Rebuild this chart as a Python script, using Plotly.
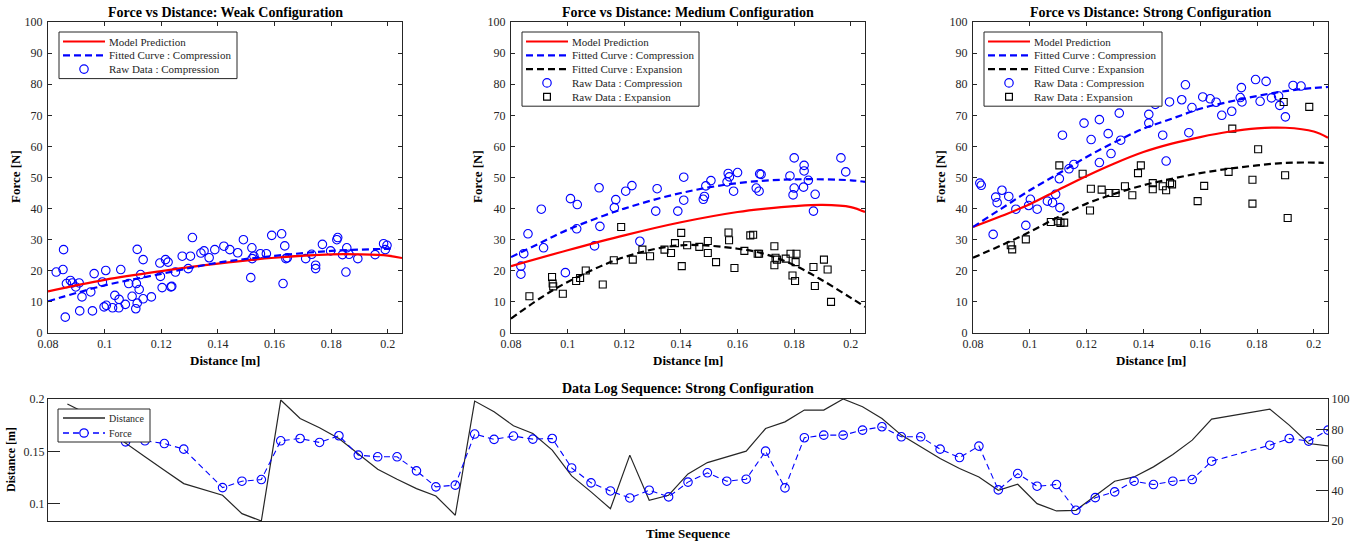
import plotly.graph_objects as go

# ---------------- Weak configuration ----------------
weak_comp_x = [0.0829, 0.0853, 0.0855, 0.0861, 0.0865, 0.0879, 0.0886, 0.0898, 0.0910, 0.0912,
               0.0920, 0.0951, 0.0957, 0.0963, 0.0992, 0.0998, 0.1004, 0.1006, 0.1028, 0.1036,
               0.1050, 0.1051, 0.1057, 0.1073, 0.1085, 0.1097, 0.1112, 0.1115, 0.1115, 0.1110,
               0.1122, 0.1127, 0.1136, 0.1136, 0.1165, 0.1195, 0.1197, 0.1203, 0.1215, 0.1224,
               0.1234, 0.1237, 0.1250, 0.1274, 0.1295, 0.1303, 0.1310, 0.1340, 0.1351, 0.1369,
               0.1389, 0.1421, 0.1442, 0.1470, 0.1490, 0.1516, 0.1520, 0.1521, 0.1527, 0.1550,
               0.1571, 0.1590, 0.1625, 0.1630, 0.1636, 0.1640, 0.1645, 0.1710, 0.1731, 0.1745,
               0.1745, 0.1769, 0.1798, 0.1820, 0.1823, 0.1840, 0.1852, 0.1855, 0.1863, 0.1894,
               0.1955, 0.1985, 0.1991, 0.1997]
weak_comp_f = [19.6, 20.4, 26.8, 5.1, 15.9, 16.9, 16.1, 14.8, 16.1, 7.1,
               11.6, 13.2, 7.1, 19.1, 16.4, 8.4, 20.1, 8.9, 8.1, 12.1,
               8.1, 10.8, 20.4, 9.2, 15.9, 11.8, 15.9, 26.9, 9.6, 7.8,
               14.0, 18.8, 11.0, 23.6, 11.6, 22.5, 18.2, 14.6, 23.6, 22.8,
               14.8, 15.0, 19.6, 24.7, 20.7, 24.7, 30.7, 25.7, 26.4, 24.2,
               26.8, 27.9, 26.8, 25.8, 30.0, 17.8, 27.4, 23.9, 24.7, 25.5,
               25.5, 31.4, 31.9, 15.9, 28.0, 23.9, 24.2, 23.9, 25.3, 21.8,
               20.7, 28.5, 26.4, 30.0, 30.7, 25.2, 19.6, 27.4, 25.3, 23.9,
               25.2, 28.7, 26.8, 28.2]
weak_model_x = [0.08, 0.10, 0.12, 0.14, 0.16, 0.18, 0.19, 0.20, 0.205]
weak_model_f = [13.4, 17.1, 19.9, 22.3, 24.2, 25.3, 25.3, 24.9, 24.1]
weak_fit_x = [0.08, 0.10, 0.12, 0.14, 0.16, 0.18, 0.20, 0.2025]
weak_fit_f = [10.2, 15.3, 19.0, 22.6, 24.8, 26.4, 27.1, 27.2]

# ---------------- Medium configuration ----------------
med_comp_x = [0.0835, 0.0835, 0.0845, 0.0860, 0.0907, 0.0915, 0.0992, 0.1010, 0.1034, 0.1032,
              0.1095, 0.1111, 0.1114, 0.1165, 0.1170, 0.1205, 0.1227, 0.1255, 0.1311, 0.1316,
              0.1389, 0.1410, 0.1410, 0.1479, 0.1483, 0.1488, 0.1506, 0.1563, 0.1567, 0.1571,
              0.1586, 0.1600, 0.1666, 0.1676, 0.1678, 0.1683, 0.1785, 0.1796, 0.1800, 0.1800,
              0.1833, 0.1835, 0.1835, 0.1850, 0.1868, 0.1874, 0.1965, 0.1982]
med_comp_f = [21.5, 18.9, 25.5, 31.9, 39.8, 27.4, 19.4, 43.2, 41.3, 33.5,
              28.0, 46.7, 34.3, 40.3, 42.9, 45.6, 47.4, 29.5, 39.2, 46.4,
              39.2, 42.7, 50.1, 43.0, 43.9, 47.3, 49.0, 48.6, 51.3, 50.2,
              45.6, 51.6, 46.6, 45.6, 51.2, 51.0, 50.5, 44.4, 56.3, 46.6,
              46.9, 53.9, 52.1, 49.1, 39.2, 44.6, 56.3, 51.8]
med_exp_x = [0.0865, 0.0945, 0.0947, 0.0949, 0.0983, 0.1030, 0.1044, 0.1064, 0.1124, 0.1163,
             0.1189, 0.1230, 0.1264, 0.1291, 0.1342, 0.1365, 0.1379, 0.1401, 0.1403, 0.1422,
             0.1465, 0.1495, 0.1495, 0.1524, 0.1568, 0.1570, 0.1589, 0.1624, 0.1645, 0.1655,
             0.1671, 0.1676, 0.1730, 0.1730, 0.1734, 0.1739, 0.1770, 0.1787, 0.1794, 0.1803,
             0.1805, 0.1808, 0.1868, 0.1873, 0.1905, 0.1918, 0.1930]
med_exp_f = [11.8, 18.0, 15.9, 15.0, 12.6, 16.7, 17.7, 20.1, 15.6, 23.4,
             34.1, 23.6, 26.8, 24.7, 26.8, 25.7, 28.9, 32.2, 21.5, 28.2,
             27.7, 29.6, 25.7, 22.8, 32.3, 29.8, 20.9, 26.4, 31.4, 31.6,
             25.5, 25.5, 27.9, 21.8, 24.2, 23.6, 23.9, 25.5, 18.5, 16.7,
             22.8, 25.5, 21.2, 15.1, 23.6, 20.4, 10.0]
med_model_x = [0.08, 0.10, 0.12, 0.14, 0.16, 0.17, 0.18, 0.19, 0.20, 0.205]
med_model_f = [21.5, 26.6, 31.4, 35.6, 38.9, 40.0, 40.8, 41.2, 40.5, 38.9]
med_fitc_x = [0.08, 0.09, 0.10, 0.12, 0.14, 0.16, 0.18, 0.20, 0.205]
med_fitc_f = [24.4, 28.8, 33.2, 40.0, 45.0, 48.2, 49.4, 49.1, 48.6]
med_fite_x = [0.08, 0.09, 0.10, 0.12, 0.14, 0.16, 0.17, 0.18, 0.19, 0.20, 0.205]
med_fite_f = [4.6, 11.0, 16.4, 24.4, 28.2, 27.1, 25.3, 21.8, 16.9, 11.3, 8.4]

# ---------------- Strong configuration ----------------
str_comp_x = [0.0824, 0.0829, 0.0871, 0.0880, 0.0885, 0.0902, 0.0926, 0.0951, 0.0986, 0.0996,
              0.1002, 0.1026, 0.1062, 0.1080, 0.1091, 0.1104, 0.1106, 0.1115, 0.1138, 0.1155,
              0.1191, 0.1216, 0.1245, 0.1245, 0.1276, 0.1286, 0.1315, 0.1320, 0.1419, 0.1419,
              0.1442, 0.1468, 0.1480, 0.1492, 0.1535, 0.1548, 0.1560, 0.1571, 0.1609, 0.1635,
              0.1656, 0.1676, 0.1711, 0.1741, 0.1745, 0.1747, 0.1795, 0.1811, 0.1832, 0.1851,
              0.1876, 0.1880, 0.1900, 0.1927, 0.1955]
str_comp_f = [48.2, 47.5, 31.7, 43.7, 41.9, 45.9, 43.9, 39.8, 34.6, 41.0,
              43.0, 39.8, 42.4, 41.9, 44.6, 49.6, 40.3, 63.6, 52.8, 54.2,
              67.5, 62.2, 68.6, 54.8, 64.1, 57.7, 70.7, 62.0, 70.3, 67.5,
              73.5, 63.6, 55.3, 74.3, 75.0, 79.8, 64.4, 72.5, 75.9, 75.3,
              74.2, 70.0, 71.3, 75.7, 78.9, 74.3, 81.5, 74.5, 80.9, 75.6,
              76.2, 73.2, 69.5, 79.6, 79.4]
str_exp_x = [0.0933, 0.0938, 0.0986, 0.1074, 0.1100, 0.1104, 0.1108, 0.1121, 0.1186, 0.1212,
             0.1215, 0.1253, 0.1280, 0.1302, 0.1335, 0.1361, 0.1381, 0.1391, 0.1433, 0.1433,
             0.1468, 0.1480, 0.1494, 0.1501, 0.1591, 0.1614, 0.1700, 0.1713, 0.1784, 0.1784,
             0.1804, 0.1894, 0.1899, 0.1908, 0.1984]
str_exp_f = [28.2, 26.9, 30.1, 35.7, 35.9, 53.9, 35.4, 35.5, 51.2, 39.4,
             46.4, 46.1, 45.0, 45.0, 47.2, 44.3, 51.4, 53.9, 48.2, 46.2,
             47.2, 45.9, 48.2, 47.8, 42.4, 47.3, 51.8, 65.7, 41.6, 49.3,
             59.1, 74.3, 50.7, 37.0, 72.7]
str_model_x = [0.08, 0.09, 0.10, 0.11, 0.12, 0.13, 0.14, 0.15, 0.16, 0.17, 0.18, 0.19, 0.20, 0.205]
str_model_f = [34.1, 37.6, 41.4, 46.0, 50.5, 54.6, 58.2, 60.9, 63.0, 64.7, 65.8, 66.0, 64.8, 62.8]
str_fitc_x = [0.08, 0.09, 0.10, 0.11, 0.12, 0.13, 0.14, 0.15, 0.16, 0.17, 0.18, 0.19, 0.20, 0.205]
str_fitc_f = [34.1, 40.0, 45.9, 51.2, 56.6, 61.4, 65.7, 68.9, 72.1, 74.3, 76.2, 77.8, 78.8, 79.1]
str_fite_x = [0.08, 0.09, 0.10, 0.11, 0.12, 0.13, 0.14, 0.15, 0.16, 0.17, 0.18, 0.19, 0.20, 0.2035]
str_fite_f = [24.2, 28.2, 32.5, 37.3, 41.6, 44.8, 47.5, 49.6, 51.4, 52.8, 53.9, 54.7, 54.8, 54.7]

# ---------------- Data log sequence (strong) ----------------
dist_idx = [1, 2, 3, 4, 5, 6, 7, 9, 10, 11, 12, 13, 14, 15, 16, 17, 18, 19, 20, 21, 22, 23,
            24, 25, 26, 27, 28, 29, 30, 31, 32, 33, 34, 35, 36, 37, 38, 39, 40, 41, 42, 43,
            44, 45, 46, 47, 48, 49, 50, 51, 52, 53, 54, 55, 56, 57, 58, 59, 60, 63, 64, 65, 66]
seq_dist = [0.1952, 0.186, 0.171, 0.1575, 0.1448, 0.1320, 0.1192, 0.1081, 0.0905, 0.0835,
            0.1990, 0.1814, 0.1725, 0.1623, 0.1472, 0.1330, 0.1234, 0.1144, 0.1074, 0.0890,
            0.1980, 0.1878, 0.1744, 0.1670, 0.1512, 0.1266, 0.1113, 0.0953, 0.1464, 0.1033,
            0.1081, 0.1285, 0.1393, 0.1448, 0.1502, 0.1718, 0.1782, 0.1894, 0.1894, 0.2000,
            0.1926, 0.1814, 0.1655, 0.1543, 0.1431, 0.1336, 0.1256, 0.1128, 0.1186, 0.1001,
            0.0931, 0.0937, 0.1074, 0.1215, 0.1256, 0.1352, 0.1470, 0.1607, 0.1808, 0.1904,
            0.1751, 0.1575, 0.1553]
force_idx = [4, 5, 6, 7, 9, 10, 11, 12, 13, 14, 15, 16, 17, 18, 19, 20, 21, 22, 23,
             24, 25, 26, 27, 28, 29, 30, 31, 32, 33, 34, 35, 36, 37, 38, 39, 40, 41, 42, 43,
             44, 45, 46, 47, 48, 49, 50, 51, 52, 53, 54, 55, 56, 57, 58, 59, 60, 63, 64, 65, 66]
seq_force = [71.9, 72.6, 70.8, 67.1, 41.9, 46.1, 47.2,
             72.6, 74.1, 71.5, 75.9, 63.2, 62.1, 62.1, 52.9, 42.4, 43.5,
             77.0, 73.5, 75.7, 73.7, 74.1, 54.8, 45.0, 39.7, 35.1, 40.2,
             35.8, 45.5, 51.6, 46.1, 47.4, 65.8, 41.7, 74.6, 76.3, 76.3,
             79.6, 81.8, 75.2, 75.2, 67.1, 61.6, 69.1, 40.4, 51.1, 42.8,
             43.9, 27.0, 35.3, 39.1, 46.1, 43.9, 46.1, 47.2, 59.2, 69.7,
             74.1, 72.4, 79.6]

x_ticks = [0.08, 0.10, 0.12, 0.14, 0.16, 0.18, 0.20]
x_tick_text = ["0.08", "0.1", "0.12", "0.14", "0.16", "0.18", "0.2"]
y_ticks = [0, 10, 20, 30, 40, 50, 60, 70, 80, 90, 100]

titles = ["Force vs Distance: Weak Configuration",
          "Force vs Distance: Medium Configuration",
          "Force vs Distance: Strong Configuration"]
bottom_title = "Data Log Sequence: Strong Configuration"

# legend entries: (label, kind)
legend_weak = [("Model Prediction", "red"), ("Fitted Curve : Compression", "bluedash"),
               ("Raw Data : Compression", "circle")]
legend_full = [("Model Prediction", "red"), ("Fitted Curve : Compression", "bluedash"),
               ("Fitted Curve : Expansion", "blackdash"), ("Raw Data : Compression", "circle"),
               ("Raw Data : Expansion", "square")]
legend_seq = [("Distance", "distline"), ("Force", "forceline")]

SERIF = "Liberation Serif, Times New Roman, serif"
AX = "#262626"
W, H = 1366, 542

def px_x(p):
    return p / W

def px_y(p):
    return 1 - p / H

fig = go.Figure()
DASH2 = "7px,4px"

def add_panel(n, model, fitc, fite, comp, exp):
    xa = "x" if n == 1 else f"x{n}"
    ya = "y" if n == 1 else f"y{n}"
    fig.add_trace(go.Scatter(x=comp[0], y=comp[1], mode="markers",
                             marker=dict(symbol="circle-open", size=8.5, color="#0000FF",
                                         line=dict(width=1.1, color="#0000FF")),
                             xaxis=xa, yaxis=ya, showlegend=False))
    if exp is not None:
        fig.add_trace(go.Scatter(x=exp[0], y=exp[1], mode="markers",
                                 marker=dict(symbol="square-open", size=7, color="#000000",
                                             line=dict(width=1.1, color="#000000")),
                                 xaxis=xa, yaxis=ya, showlegend=False))
    fig.add_trace(go.Scatter(x=model[0], y=model[1], mode="lines",
                             line=dict(color="#FF0000", width=2.2, shape="spline"),
                             xaxis=xa, yaxis=ya, showlegend=False))
    fig.add_trace(go.Scatter(x=fitc[0], y=fitc[1], mode="lines",
                             line=dict(color="#0000FF", width=2.2, dash=DASH2, shape="spline"),
                             xaxis=xa, yaxis=ya, showlegend=False))
    if fite is not None:
        fig.add_trace(go.Scatter(x=fite[0], y=fite[1], mode="lines",
                                 line=dict(color="#000000", width=2.2, dash=DASH2, shape="spline"),
                                 xaxis=xa, yaxis=ya, showlegend=False))

add_panel(1, (weak_model_x, weak_model_f), (weak_fit_x, weak_fit_f), None,
          (weak_comp_x, weak_comp_f), None)
add_panel(2, (med_model_x, med_model_f), (med_fitc_x, med_fitc_f), (med_fite_x, med_fite_f),
          (med_comp_x, med_comp_f), (med_exp_x, med_exp_f))
add_panel(3, (str_model_x, str_model_f), (str_fitc_x, str_fitc_f), (str_fite_x, str_fite_f),
          (str_comp_x, str_comp_f), (str_exp_x, str_exp_f))

fig.add_trace(go.Scatter(x=dist_idx, y=seq_dist, mode="lines",
                         line=dict(color="#262626", width=1.2),
                         xaxis="x4", yaxis="y4", showlegend=False))
fig.add_trace(go.Scatter(x=force_idx, y=seq_force, mode="lines+markers",
                         line=dict(color="#0000FF", width=1.1, dash="6px,4px"),
                         marker=dict(symbol="circle-open", size=8.5, color="#0000FF",
                                     line=dict(width=1.1, color="#0000FF")),
                         xaxis="x4", yaxis="y5", showlegend=False))

panel_px = [(48, 402), (511, 865), (973, 1328)]
tfont = dict(family=SERIF, size=12, color=AX)

layout = dict(
    width=W, height=H, margin=dict(l=0, r=0, t=0, b=0, autoexpand=False),
    paper_bgcolor="white", plot_bgcolor="white", showlegend=False,
    font=dict(family=SERIF, size=11, color=AX),
)

ann = []
shapes = []

for i, (l, r) in enumerate(panel_px, start=1):
    xk = "xaxis" if i == 1 else f"xaxis{i}"
    yk = "yaxis" if i == 1 else f"yaxis{i}"
    ya = "y" if i == 1 else f"y{i}"
    xa = "x" if i == 1 else f"x{i}"
    layout[xk] = dict(domain=[px_x(l), px_x(r)], anchor=ya, range=[0.08, 0.205],
                      tickvals=x_ticks, ticktext=x_tick_text, ticks="inside", ticklen=4,
                      tickcolor=AX, showline=True, linecolor=AX, linewidth=1, mirror="ticks",
                      showgrid=False, zeroline=False, tickfont=tfont, automargin=False)
    layout[yk] = dict(domain=[px_y(333), px_y(22)], anchor=xa, range=[0, 100],
                      tickvals=y_ticks, ticks="inside", ticklen=4, tickcolor=AX,
                      showline=True, linecolor=AX, linewidth=1, mirror="ticks",
                      showgrid=False, zeroline=False, tickfont=tfont, automargin=False,
                      ticklabelstandoff=2)

layout["xaxis4"] = dict(domain=[px_x(48), px_x(1328)], anchor="y4", range=[0, 66],
                        showticklabels=False, ticks="", showline=True, linecolor=AX,
                        linewidth=1, mirror=True, showgrid=False, zeroline=False,
                        automargin=False)
layout["yaxis4"] = dict(domain=[px_y(521), px_y(399)], anchor="x4",
                        range=[min(seq_dist), max(seq_dist)],
                        tickvals=[0.1, 0.15, 0.2], ticktext=["0.1", "0.15", "0.2"],
                        ticks="inside", ticklen=12, tickcolor=AX, showline=True,
                        linecolor=AX, linewidth=1, showgrid=False, zeroline=False,
                        tickfont=tfont, automargin=False)
layout["yaxis5"] = dict(overlaying="y4", side="right", anchor="x4", range=[20, 100],
                        tickvals=[20, 40, 60, 80, 100], ticks="inside", ticklen=12,
                        tickcolor=AX, showline=True, linecolor=AX, linewidth=1,
                        showgrid=False, zeroline=False, tickfont=tfont, automargin=False)

def text_ann(text, x, y, size, angle=0, anchor="center", bold=True, color="#000000"):
    t = f"<b>{text}</b>" if bold else text
    ann.append(dict(text=t, x=px_x(x), y=px_y(y), xref="paper", yref="paper",
                    showarrow=False, textangle=angle,
                    font=dict(family=SERIF, size=size, color=color),
                    xanchor=anchor, yanchor="middle"))

# titles and axis labels
for (l, r), t, ylab_x in zip(panel_px, titles, [15, 477, 940]):
    text_ann(t, (l + r) / 2, 12, 14)
    text_ann("Distance [m]", (l + r) / 2, 360, 13)
    text_ann("Force [N]", ylab_x, 177, 13, angle=-90)
text_ann(bottom_title, 688, 388, 14)
text_ann("Time Sequence", 688, 533, 13)
text_ann("Distance [m]", 11, 460, 12, angle=-90)

# manual legends
def draw_legend(entries, left, top, right, first_dy, step, line_x0, line_x1, text_x, fsize):
    bottom = top + first_dy + step * (len(entries) - 1) + first_dy
    shapes.append(dict(type="rect", xref="paper", yref="paper",
                       x0=px_x(left), x1=px_x(right), y0=px_y(bottom), y1=px_y(top),
                       line=dict(color=AX, width=1), fillcolor="white", layer="above"))
    for k, (label, kind) in enumerate(entries):
        yy = top + first_dy + step * k
        mid = (line_x0 + line_x1) / 2
        if kind in ("red", "bluedash", "blackdash", "distline", "forceline"):
            col = {"red": "#FF0000", "bluedash": "#0000FF", "blackdash": "#000000",
                   "distline": "#262626", "forceline": "#0000FF"}[kind]
            dash = {"red": "solid", "bluedash": DASH2, "blackdash": DASH2,
                    "distline": "solid", "forceline": "6px,4px"}[kind]
            wid = 2.2 if kind in ("red", "bluedash", "blackdash") else 1.3
            shapes.append(dict(type="line", xref="paper", yref="paper",
                               x0=px_x(line_x0), x1=px_x(line_x1), y0=px_y(yy), y1=px_y(yy),
                               line=dict(color=col, width=wid, dash=dash), layer="above"))
        if kind in ("circle", "forceline"):
            rr = 4.2
            shapes.append(dict(type="circle", xref="paper", yref="paper",
                               x0=px_x(mid - rr), x1=px_x(mid + rr), y0=px_y(yy + rr), y1=px_y(yy - rr),
                               line=dict(color="#0000FF", width=1.2),
                               fillcolor="white" if kind == "forceline" else "rgba(0,0,0,0)",
                               layer="above"))
        if kind == "square":
            rr = 3.4
            shapes.append(dict(type="rect", xref="paper", yref="paper",
                               x0=px_x(mid - rr), x1=px_x(mid + rr), y0=px_y(yy + rr), y1=px_y(yy - rr),
                               line=dict(color="#000000", width=1.2), layer="above"))
        text_ann(label, text_x, yy, fsize, anchor="left", bold=False, color=AX)

draw_legend(legend_weak, 59, 32, 237, 9.5, 13.8, 63, 105, 107, 11)
draw_legend(legend_full, 522, 32, 699, 9.5, 13.8, 526, 568, 570, 11)
draw_legend(legend_full, 984, 32, 1162, 9.5, 13.8, 988, 1030, 1032, 11)
draw_legend(legend_seq, 58, 409, 150, 9, 15, 63, 105, 107, 10)

layout["annotations"] = ann
layout["shapes"] = shapes

fig.update_layout(**layout)
fig.write_html("out.html", config={"displayModeBar": False},
               post_script="document.body.style.margin='0px';document.body.style.overflow='hidden';")
